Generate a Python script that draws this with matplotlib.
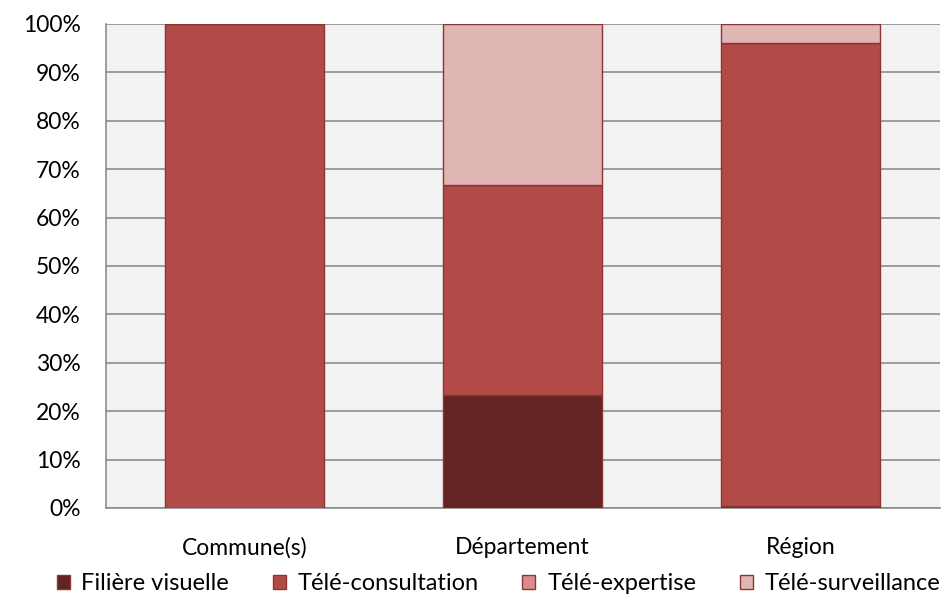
import matplotlib
matplotlib.use("Agg")
import matplotlib.pyplot as plt
import numpy as np
from matplotlib.ticker import PercentFormatter

categories = ["Commune(s)", "Département", "Région"]
series_names = ["Filière visuelle", "Télé-consultation", "Télé-expertise", "Télé-surveillance"]
filiere_visuelle = [0.0, 23.3, 0.4]
tele_consultation = [100.0, 43.4, 95.7]
tele_expertise = [0.0, 0.0, 0.0]
tele_surveillance = [0.0, 33.3, 3.9]
colors = ["#632423", "#B24B48", "#D98D8B", "#E0B6B5"]
edge = "#8E3431"

plt.rcParams['font.family'] = ['Lato', 'DejaVu Sans']

fig = plt.figure(figsize=(9.46, 6.02), dpi=100)
ax = fig.add_axes([105.5/946, (602-508)/602, (939.5-105.5)/946, (508-24)/602])
ax.set_facecolor("#F2F2F2")

x = np.arange(len(categories))
bottom = np.zeros(len(categories))
for name, vals, col in zip(series_names,
                           [filiere_visuelle, tele_consultation, tele_expertise, tele_surveillance],
                           colors):
    v = np.array(vals)
    ax.bar(x, v, bottom=bottom, width=0.572, color=col, edgecolor=edge,
           linewidth=1.0, label=name, zorder=3)
    bottom += v

ax.set_xlim(-0.5, 2.5)
ax.set_ylim(0, 100)
ax.set_yticks(np.arange(0, 101, 10))
ax.yaxis.set_major_formatter(PercentFormatter(decimals=0))
ax.set_xticks(x)
ax.set_xticklabels(categories)
ax.grid(axis='y', color="#8C8C8C", linewidth=1.2, zorder=0)
ax.tick_params(axis='both', length=0, labelsize=16.5, colors="black")
ax.tick_params(axis='y', pad=18)
ax.tick_params(axis='x', pad=21)
for s in ["top", "right"]:
    ax.spines[s].set_visible(False)
for s in ["left", "bottom"]:
    ax.spines[s].set_color("#8C8C8C")
    ax.spines[s].set_linewidth(1.2)

leg = fig.legend(loc="center", bbox_to_anchor=(0.527, (602-584)/602), ncol=4,
                 frameon=False, fontsize=17, handlelength=0.55, handleheight=0.55,
                 handletextpad=0.5, columnspacing=1.85, borderaxespad=0)

fig.savefig("out.png", dpi=100)
